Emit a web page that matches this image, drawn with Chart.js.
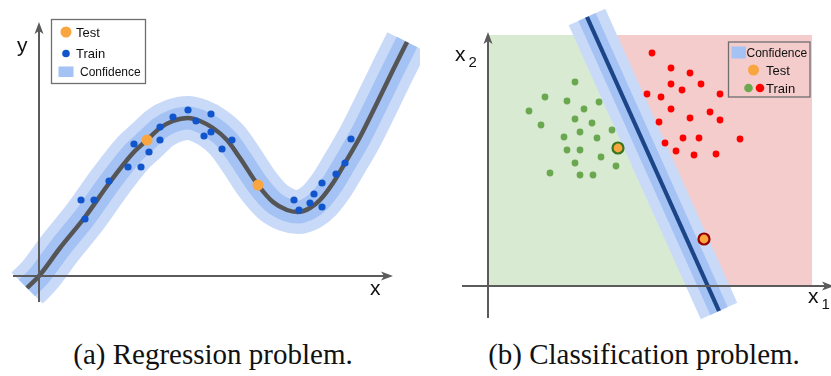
<!DOCTYPE html>
<html>
<head>
<meta charset="utf-8">
<script src="https://cdn.jsdelivr.net/npm/chart.js@4.4.1/dist/chart.umd.min.js"></script>
<style>
  body { margin: 0; width: 831px; height: 376px; background: #fff; position: relative; overflow: hidden; }
  #regWrap { position: absolute; left: 0; top: 0; width: 420px; height: 335px; }
  #clsWrap { position: absolute; left: 420px; top: 0; width: 411px; height: 335px; }
  .caption { position: absolute; top: 340px; font: 29px "Liberation Serif", "Times New Roman", serif; line-height: 29px; white-space: nowrap; transform: translateX(-50%); color: #111; }
</style>
</head>
<body>
<div id="regWrap"><canvas id="regChart" width="420" height="335"></canvas></div>
<div id="clsWrap"><canvas id="clsChart" width="411" height="335"></canvas></div>
<div class="caption" style="left:213px">(a) Regression problem.</div>
<div class="caption" style="left:644px">(b) Classification problem.</div>
<script>
// ---- regression data ----
const curveX = [-1.2, 0, 2.1, 4.6, 7.1, 9.4, 10.8, 12.1, 13.4, 14.9, 16.1, 17.4, 18.8, 20.1, 21.9, 23.4, 24.8, 25.9, 27.1, 28.1, 29.4, 30.6, 32.1, 33.8, 35.4, 36.8];
const curveY = [-1.2, 0, 2.8, 5.9, 9.4, 12.3, 13.6, 14.8, 15.5, 15.8, 15.5, 14.8, 13.6, 11.8, 9.1, 7.4, 6.6, 6.4, 6.8, 7.6, 9.3, 11.3, 13.9, 17.3, 20.6, 23.4];
const trainX = [4.2, 5.5, 4.6, 7.0, 8.9, 10.2, 9.5, 11.0, 12.1, 12.1, 13.4, 14.9, 15.7, 17.2, 16.5, 17.2, 19.3, 18.3, 25.5, 26.0, 27.1, 27.5, 28.3, 28.3, 29.7, 30.6, 31.2];
const trainY = [7.6, 7.6, 5.7, 9.5, 10.9, 10.9, 13.2, 12.4, 13.6, 14.9, 15.9, 16.6, 15.5, 16.2, 14.0, 14.4, 13.6, 12.7, 7.6, 6.6, 7.3, 8.2, 9.3, 6.9, 10.2, 11.3, 13.7];
const testX = [10.8, 21.9];
const testY = [13.6, 9.1];

// ---- classification data ----
const greenX = [8.7, 5.7, 7.9, 11.1, 4.1, 9.6, 8.7, 10.4, 5.3, 12.4, 9.2, 7.6, 10.9, 7.9, 9.2, 11.3, 8.7, 12.8, 6.2, 9.2, 10.5];
const greenY = [20.4, 18.9, 18.5, 18.4, 17.5, 17.7, 16.7, 16.3, 16.1, 15.6, 15.4, 14.9, 14.8, 13.6, 13.6, 12.9, 12.3, 12.0, 11.3, 11.1, 11.1];
const redX = [16.4, 18.3, 20.2, 18.3, 19.4, 21.3, 15.9, 17.3, 23.2, 18.3, 22.2, 20.2, 17.1, 23.2, 19.5, 21.1, 25.2, 17.7, 18.8, 20.6, 22.8];
const redY = [23.3, 21.8, 21.3, 20.2, 19.6, 20.2, 19.2, 18.9, 19.2, 17.7, 17.4, 16.8, 16.4, 16.6, 14.8, 14.8, 14.7, 14.3, 13.5, 13.1, 13.2];
const clsTestX = [13.0, 21.6];
const clsTestY = [13.8, 4.7];
const boundaryX = [9.9, 23.1];
const boundaryY = [26.9, -2.5];
const greenAreaX = [0, 0, 10.7, 22.0];
const greenAreaY = [0, 25.1, 25.1, 0];
const redAreaX = [0, 0, 32.4, 32.4];
const redAreaY = [0, 25.1, 25.1, 0];

const AXIS_COLOR = '#5b5b5b';
const BAND_OUTER = '#c9daf8';
const BAND_INNER = '#a4c2f4';
const ORANGE = '#f9a640';

const pts = (xs, ys) => xs.map((x, i) => ({ x, y: ys[i] }));

// axes with arrow heads and their letter labels
const axisArrows = {
  id: 'axisArrows',
  afterDatasetsDraw(chart, args, opts) {
    const { ctx, scales: { x, y } } = chart;
    const ox = x.getPixelForValue(0), oy = y.getPixelForValue(0);
    const xa = x.getPixelForValue(opts.xRange[0]), xb = x.getPixelForValue(opts.xRange[1]);
    const ya = y.getPixelForValue(opts.yRange[0]), yb = y.getPixelForValue(opts.yRange[1]);
    ctx.save();
    ctx.strokeStyle = AXIS_COLOR;
    ctx.fillStyle = AXIS_COLOR;
    ctx.lineWidth = 2;
    ctx.beginPath();
    ctx.moveTo(xa, oy); ctx.lineTo(xb - 6, oy);
    ctx.moveTo(ox, ya); ctx.lineTo(ox, yb + 6);
    ctx.stroke();
    // arrow heads
    ctx.beginPath();
    ctx.moveTo(xb, oy); ctx.lineTo(xb - 12, oy - 4.5); ctx.lineTo(xb - 9, oy); ctx.lineTo(xb - 12, oy + 4.5); ctx.closePath();
    ctx.moveTo(ox, yb); ctx.lineTo(ox - 4.5, yb + 12); ctx.lineTo(ox, yb + 9); ctx.lineTo(ox + 4.5, yb + 12); ctx.closePath();
    ctx.fill();
    // labels
    ctx.fillStyle = '#111';
    ctx.textBaseline = 'alphabetic';
    opts.labels.forEach(l => {
      ctx.font = '21px "Liberation Sans", Arial, sans-serif';
      ctx.fillText(l.text, l.x, l.y);
      if (l.sub) {
        const w = ctx.measureText(l.text).width;
        ctx.font = '15px "Liberation Sans", Arial, sans-serif';
        ctx.fillText(l.sub, l.x + w + 3, l.y + 6);
      }
    });
    ctx.restore();
  }
};

// boxed legend drawn at a fixed spot inside the plot
const boxLegend = {
  id: 'boxLegend',
  afterDraw(chart, args, opts) {
    const { ctx } = chart;
    const b = opts.box;
    ctx.save();
    if (opts.fill) { ctx.fillStyle = opts.fill; ctx.fillRect(b[0], b[1], b[2], b[3]); }
    ctx.strokeStyle = '#6f6f6f';
    ctx.lineWidth = 1.3;
    ctx.strokeRect(b[0], b[1], b[2], b[3]);
    ctx.textBaseline = 'alphabetic';
    ctx.fillStyle = '#111';
    opts.items.forEach(it => {
      it.marks.forEach(m => {
        ctx.fillStyle = m.color;
        if (m.square) {
          ctx.fillRect(m.x, m.y, m.w, m.h);
        } else {
          ctx.beginPath(); ctx.arc(m.x, m.y, m.r, 0, Math.PI * 2); ctx.fill();
        }
      });
      ctx.fillStyle = '#111';
      ctx.font = it.size + 'px "Liberation Sans", Arial, sans-serif';
      ctx.fillText(it.text, it.tx, it.ty);
    });
    ctx.restore();
  }
};

const baseOptions = (xMin, xMax, yMin, yMax) => ({
  responsive: false,
  animation: false,
  events: [],
  layout: { padding: 0, autoPadding: false },
  scales: {
    x: { type: 'linear', min: xMin, max: xMax, display: false },
    y: { type: 'linear', min: yMin, max: yMax, display: false }
  },
  plugins: { legend: { display: false }, tooltip: { enabled: false } }
});

// ---- (a) regression ----
const regOpts = baseOptions(-3.9, 38.1, -5.9, 27.6);
regOpts.plugins.axisArrows = {
  xRange: [-2.6, 35.4], yRange: [-2.6, 25.4],
  labels: [{ text: 'y', x: 17, y: 52 }, { text: 'x', x: 370, y: 295 }]
};
regOpts.plugins.boxLegend = {
  box: [51.5, 19.5, 94, 64], fill: '#fff',
  items: [
    { text: 'Test', size: 13, tx: 76, ty: 37, marks: [{ x: 66, y: 32, r: 5.5, color: ORANGE }] },
    { text: 'Train', size: 13, tx: 76, ty: 58, marks: [{ x: 66, y: 53.5, r: 3.8, color: '#1155cc' }] },
    { text: 'Confidence', size: 12, tx: 80, ty: 76, marks: [{ square: true, x: 58.5, y: 66.5, w: 15, h: 10.5, color: BAND_INNER }] }
  ]
};

const curveLine = (color, width, order) => ({
  data: pts(curveX, curveY), showLine: true, borderColor: color, borderWidth: width,
  borderCapStyle: 'butt', borderJoinStyle: 'round', cubicInterpolationMode: 'monotone',
  pointRadius: 0, clip: false, order
});

new Chart(document.getElementById('regChart'), {
  type: 'scatter',
  data: {
    datasets: [
      { data: pts(testX, testY), backgroundColor: ORANGE, pointRadius: 5.5, borderWidth: 0, order: 0 },
      { data: pts(trainX, trainY), backgroundColor: '#1155cc', pointRadius: 3.6, borderWidth: 0, order: 0 },
      curveLine('#555555', 4.5, 1),
      curveLine(BAND_INNER, 23, 2),
      curveLine(BAND_OUTER, 44, 3)
    ]
  },
  options: regOpts,
  plugins: [axisArrows, boxLegend]
});

// ---- (b) classification ----
const clsOpts = baseOptions(-6.8, 34.3, -4.9, 28.6);
clsOpts.plugins.axisArrows = {
  xRange: [-2.6, 34.6], yRange: [-3.2, 25.4],
  labels: [{ text: 'x', x: 35, y: 61, sub: '2' }, { text: 'x', x: 388, y: 303, sub: '1' }]
};
clsOpts.plugins.boxLegend = {
  box: [308.5, 42, 81.5, 55],
  items: [
    { text: 'Confidence', size: 12, tx: 326.5, ty: 57, marks: [{ square: true, x: 311.5, y: 46.5, w: 14.5, h: 12, color: BAND_INNER }] },
    { text: 'Test', size: 13, tx: 346, ty: 75, marks: [{ x: 333.5, y: 70, r: 5.5, color: ORANGE }] },
    { text: 'Train', size: 13, tx: 346, ty: 93, marks: [{ x: 328.5, y: 88, r: 4.3, color: '#6aa84f' }, { x: 340, y: 88, r: 4.3, color: '#ff0000' }] }
  ]
};

const boundaryLine = (color, width, order) => ({
  data: pts(boundaryX, boundaryY), showLine: true, borderColor: color, borderWidth: width,
  borderCapStyle: 'butt', pointRadius: 0, clip: false, order
});

new Chart(document.getElementById('clsChart'), {
  type: 'scatter',
  data: {
    datasets: [
      { data: pts(clsTestX, clsTestY), backgroundColor: ORANGE, borderColor: ['#38761d', '#990000'], borderWidth: 2.2, pointRadius: 5.5, order: 0 },
      { data: pts(greenX, greenY), backgroundColor: '#6aa84f', pointRadius: 3.4, borderWidth: 0, order: 0 },
      { data: pts(redX, redY), backgroundColor: '#ff0000', pointRadius: 3.4, borderWidth: 0, order: 0 },
      boundaryLine('#1c4587', 4.2, 1),
      boundaryLine(BAND_INNER, 19, 2),
      boundaryLine(BAND_OUTER, 40, 3),
      { data: pts(greenAreaX, greenAreaY), showLine: true, fill: 'shape', backgroundColor: '#d9ead3', borderWidth: 0, pointRadius: 0, tension: 0, order: 4 },
      { data: pts(redAreaX, redAreaY), showLine: true, fill: 'shape', backgroundColor: '#f4cccc', borderWidth: 0, pointRadius: 0, tension: 0, order: 5 }
    ]
  },
  options: clsOpts,
  plugins: [axisArrows, boxLegend]
});
</script>
</body>
</html>
